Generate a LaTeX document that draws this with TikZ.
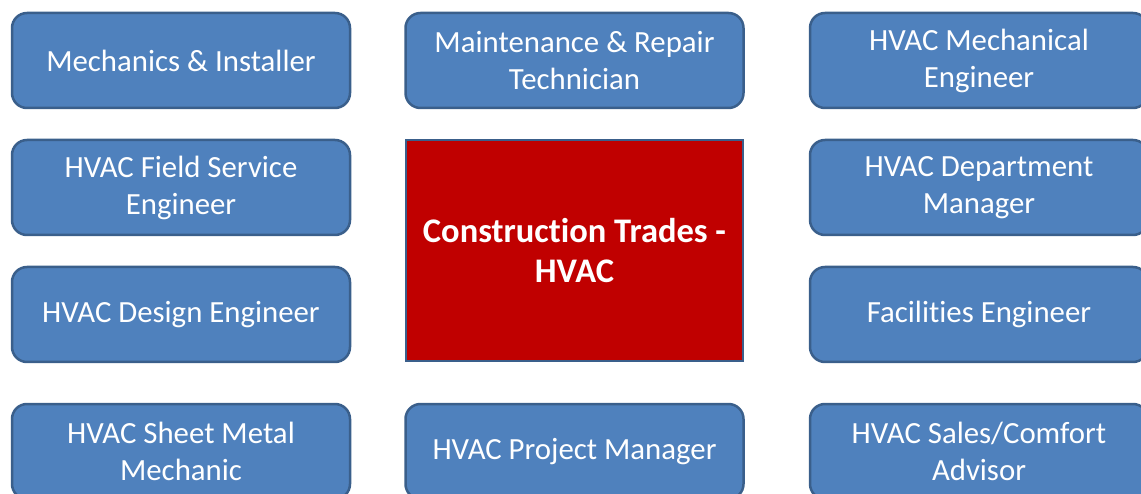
\documentclass[tikz,border=0pt]{standalone}
\usepackage{fontspec}
\setmainfont{Carlito}[Ligatures={NoCommon}]
\definecolor{boxblue}{HTML}{4F81BD}
\definecolor{boxedge}{HTML}{3A5F8B}
\definecolor{boxred}{HTML}{C00000}
\begin{document}
\begin{tikzpicture}[x=1pt,y=-1pt,
  role/.style={draw=boxedge, line width=2.5pt, fill=boxblue, rounded corners=15pt,
    minimum width=338pt, minimum height=95pt, align=center, text=white,
    font=\fontsize{30.8}{37}\selectfont, inner sep=0pt},
  hub/.style={draw=boxedge, line width=2.5pt, fill=boxred,
    minimum width=337pt, minimum height=221pt, align=center, text=white,
    font=\bfseries\fontsize{34.5}{40}\selectfont, inner sep=0pt}]
\useasboundingbox (0,0) rectangle (1141,494);
\clip (0,0) rectangle (1141,494);
\node[role] (mi) at (181,60.5) {Mechanics \& Installer};
\node[role] (mr) at (574.5,60.5) {Maintenance \& Repair\\Technician};
\node[role] (me) at (979,60.5) {HVAC Mechanical\\Engineer};
\node[role] (fs) at (181,187.5) {HVAC Field Service\\Engineer};
\node[hub] (ct) at (574.5,250.5) {Construction Trades -\\HVAC};
\node[role] (dm) at (979,187.5) {HVAC Department\\Manager};
\node[role] (de) at (181,314.5) {HVAC Design Engineer};
\node[role] (fe) at (979,314.5) {Facilities Engineer};
\node[role] (sm) at (181,451.5) {HVAC Sheet Metal\\Mechanic};
\node[role] (pm) at (574.5,451.5) {HVAC Project Manager};
\node[role] (sa) at (979,451.5) {HVAC Sales/Comfort\\Advisor};
\end{tikzpicture}
\end{document}
